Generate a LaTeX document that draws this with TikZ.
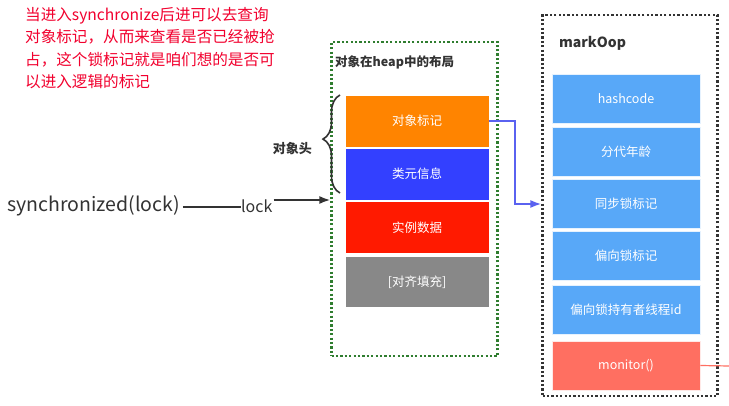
\documentclass[tikz,border=0pt]{standalone}
\usepackage{fontspec}
\setmainfont{Noto Sans CJK SC}
\usetikzlibrary{arrows.meta,decorations.pathreplacing,calc}
\definecolor{noteRed}{HTML}{F2002E}
\definecolor{darkText}{HTML}{333333}
\definecolor{heapOrange}{HTML}{FF8400}
\definecolor{heapBlue}{HTML}{3340FF}
\definecolor{heapRed}{HTML}{FF1A00}
\definecolor{heapGray}{HTML}{888888}
\definecolor{markBlue}{HTML}{58A8F8}
\definecolor{monRed}{HTML}{FF6F61}
\definecolor{arrowBlue}{HTML}{5A62F0}
\definecolor{dotGreen}{HTML}{2F7D2F}
\tikzset{
  cell/.style={draw=white, line width=0.6pt, minimum width=144pt, minimum height=52pt, inner sep=0pt, text=white, font=\fontsize{12.5}{14}\selectfont},
  mcell/.style={draw=white!85!markBlue, line width=0.6pt, fill=markBlue, minimum width=148pt, minimum height=49pt, inner sep=0pt, text=white, font=\fontsize{12.5}{14}\selectfont},
  frame/.style={line width=2.2pt, dash pattern=on 2.2pt off 2.2pt, inner sep=0pt},
  lbl/.style={inner sep=0pt, text=darkText},
}
\begin{document}
\begin{tikzpicture}[x=1pt,y=-1pt]
\useasboundingbox[fill=white] (0,0) rectangle (729,406);
% note text
\node[lbl, text=noteRed, anchor=north west, align=left, font=\fontsize{15.6}{22.5}\selectfont] (note) at (25,7)
 {当进入synchronize后进可以去查询\\对象标记，从而来查看是否已经被抢\\占，这个锁标记就是咱们想的是否可\\以进入逻辑的标记};
% heap frame
\node[frame, draw=dotGreen, minimum width=166pt, minimum height=314pt] (heap) at (414.5,199) {};
\node[lbl, anchor=west, font=\fontsize{12.5}{14}\selectfont\bfseries] (heaptitle) at (335,62) {对象在heap中的布局};
\node[cell, fill=heapOrange] (mark) at (417,121) {对象标记};
\node[cell, fill=heapBlue] (klass) at (417,174) {类元信息};
\node[cell, fill=heapRed] (inst) at (417,227.5) {实例数据};
\node[cell, fill=heapGray, minimum height=51pt] (pad) at (417,282) {[对齐填充]};
% brace
\draw[decorate, decoration={brace, amplitude=17pt, aspect=0.55}, line width=1.6pt, darkText] (340,193) -- (340,95);
\node[lbl, anchor=east, font=\fontsize{13}{14}\selectfont\bfseries] (head) at (312,149) {对象头};
% synchronized
\node[lbl, anchor=west, font=\fontsize{19.5}{22}\selectfont] (sync) at (7,206) {synchronized(lock)};
\node[lbl, anchor=west, font=\fontsize{16}{18}\selectfont] (lock) at (241,206) {lock};
\draw[line width=1.6pt, darkText] (sync.east) ++(3,1) coordinate (s1) -- (s1 -| lock.west);
\draw[line width=2pt, darkText, -{Latex[length=11pt,width=8pt]}] ($(lock.east)+(1,-6)$) coordinate (l1) -- (l1 -| heap.west);
% markOop frame
\node[frame, draw=darkText, minimum width=175pt, minimum height=381pt] (moop) at (630,205.5) {};
\node[lbl, anchor=west, font=\fontsize{14}{16}\selectfont\bfseries] (mtitle) at (559,43) {markOop};
\node[mcell] (hash) at (626,99) {hashcode};
\node[mcell] (age) at (626,152) {分代年龄};
\node[mcell] (synclk) at (626,204) {同步锁标记};
\node[mcell] (bias) at (626,256) {偏向锁标记};
\node[mcell] (owner) at (626,310) {偏向锁持有者线程id};
\node[mcell, fill=monRed, draw=white!85!monRed] (mon) at (626,365.5) {monitor()};
% blue arrow
\draw[line width=1.8pt, arrowBlue, -{Latex[length=11pt,width=8pt]}] (mark.east) -- ++(26,0) |- (moop.west |- synclk.center);
% red line out
\coordinate (edge) at (729,366);
\draw[line width=1.2pt, monRed] (mon.east) -- (edge);
\end{tikzpicture}
\end{document}
